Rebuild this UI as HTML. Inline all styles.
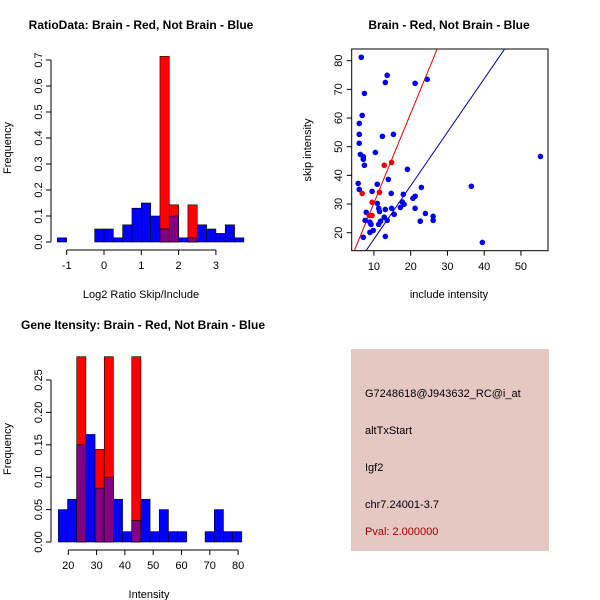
<!DOCTYPE html>
<html><head><meta charset="utf-8"><style>
body{margin:0;background:#fff}
svg{display:block;font-family:"Liberation Sans",sans-serif}
</style></head><body>
<svg id="c" width="600" height="600" xmlns="http://www.w3.org/2000/svg">
<rect width="600" height="600" fill="#fff"/>
<text x="141" y="29" text-anchor="middle" font-weight="bold" font-size="12">RatioData: Brain - Red, Not Brain - Blue</text>
<text x="449" y="29" text-anchor="middle" font-weight="bold" font-size="12">Brain - Red, Not Brain - Blue</text>
<text x="143" y="329" text-anchor="middle" font-weight="bold" font-size="12">Gene Itensity: Brain - Red, Not Brain - Blue</text>
<text x="141" y="298" text-anchor="middle" font-size="11">Log2 Ratio Skip/Include</text>
<text transform="translate(11,148) rotate(-90)" text-anchor="middle" font-size="11">Frequency</text>
<text x="449" y="298" text-anchor="middle" font-size="11">include intensity</text>
<text transform="translate(311,150) rotate(-90)" text-anchor="middle" font-size="11">skip intensity</text>
<text x="149" y="598" text-anchor="middle" font-size="11">Intensity</text>
<text transform="translate(11,449) rotate(-90)" text-anchor="middle" font-size="11">Frequency</text>
<g>
<rect x="351" y="349" width="198" height="202" fill="#e5c8c1"/>
<text x="365" y="397" font-size="11">G7248618@J943632_RC@i_at</text>
<text x="365" y="434" font-size="11">altTxStart</text>
<text x="365" y="471" font-size="11">Igf2</text>
<text x="365" y="508" font-size="11">chr7.24001-3.7</text>
<text x="365" y="535" font-size="11" fill="#a00000">Pval: 2.000000</text>
</g>
</svg>
<script>
// ---- ratio histogram data ----
const ratioStart = -1.25, ratioWidth = 0.25;
const ratioBlue = [0.016,0,0,0,0.05,0.05,0.016,0.066,0.13,0.15,0.10,0.05,0.10,0.016,0.016,0.066,0.05,0.033,0.066,0.016];
const ratioRed  = [0,0,0,0,0,0,0,0,0,0,0,0.714,0.143,0,0.143,0,0,0,0,0];
const ratioXTicks = [-1,0,1,2,3];
const ratioYTicks = [0,0.1,0.2,0.3,0.4,0.5,0.6,0.7];
// ---- intensity histogram data ----
const intStart = 16.5, intWidth = 3.24;
const intBlue = [0.05,0.066,0.15,0.166,0.083,0.10,0.066,0.016,0.033,0.066,0.016,0.05,0.016,0.016,0,0,0.016,0.05,0.016,0.016];
const intRed  = [0,0,0.286,0,0.143,0.286,0,0,0.286,0,0,0,0,0,0,0,0,0,0,0];
const intXTicks = [20,30,40,50,60,70,80];
const intYTicks = [0,0.05,0.10,0.15,0.20,0.25];
// ---- scatter data ----
const blueX = [6.55,7.4,6.8,6.0,6.0,6.0,6.3,7.1,7.1,7.4,5.7,6.0,13.6,13.1,21.2,24.5,12.3,15.3,10.4,13.9,10.9,9.5,14.7,19.1,18.0,22.9,21.2,20.6,10.9,17.7,18.2,17.2,21.2,14.8,13.1,11.3,11.5,7.9,15.5,24.0,26.1,26.1,22.6,12.8,13.6,11.8,11.3,7.6,8.9,9.2,9.8,8.9,7.1,13.1,39.5,36.5,55.3];
const blueY = [81.2,68.6,60.9,58.1,54.3,51.2,47.3,46.5,45.6,43.5,37.2,35.1,74.9,72.4,72.1,73.5,53.6,54.3,48.0,38.6,36.9,34.4,33.7,42.1,33.4,35.8,32.7,32.0,30.2,30.7,29.9,28.8,28.5,28.5,28.1,28.5,27.4,27.1,26.4,26.7,25.7,24.3,24.0,25.4,24.3,24.0,22.9,24.3,23.7,22.9,20.8,20.1,18.4,18.7,16.6,36.2,46.6];
const redX = [6.8,9.5,8.7,9.5,11.5,12.8,14.8];
const redY = [33.7,30.6,26.0,26.0,34.1,43.5,44.5];
const redLine = [-0.8,3.12];   // intercept, slope
const blueLine = [-0.9,1.865];
const scXTicks = [10,20,30,40,50];
const scYTicks = [20,30,40,50,60,70,80];

const svg = document.getElementById('c');
const NS = 'http://www.w3.org/2000/svg';
function mk(tag, attrs){const e=document.createElementNS(NS,tag);for(const k in attrs)e.setAttribute(k,attrs[k]);svg.appendChild(e);return e;}

function hist(start,width,blue,red,xs,ys,xTicks,yTicks,name,yfmt){
  for(let i=0;i<blue.length;i++){
    const x0=xs(start+i*width), x1=xs(start+(i+1)*width);
    const b=blue[i], r=red[i];
    if(r>0){const e=mk('rect',{x:x0,y:ys(r),width:x1-x0,height:ys(0)-ys(r),fill:'#ff0000',stroke:'#000','stroke-width':0.6});
      
      }
    if(b>0){const e=mk('rect',{x:x0,y:ys(b),width:x1-x0,height:ys(0)-ys(b),fill:'#0000ff',stroke:'#000','stroke-width':0.6});
      
      }
    if(b>0&&r>0){const m=Math.min(b,r);const e=mk('rect',{x:x0,y:ys(m),width:x1-x0,height:ys(0)-ys(m),fill:'#800080',stroke:'#000','stroke-width':0.6});
      
      }
  }
  const base=ys(0)+8;
  const xa=mk('line',{x1:xs(xTicks[0]),x2:xs(xTicks[xTicks.length-1]),y1:base,y2:base,stroke:'#000'});
  
  
  xTicks.forEach(t=>{mk('line',{x1:xs(t),x2:xs(t),y1:base,y2:base+5,stroke:'#000'});
    const tx=mk('text',{x:xs(t),y:base+19,'text-anchor':'middle','font-size':11});tx.textContent=t;
    
    });
  const ax=51;
  const ya=mk('line',{x1:ax,x2:ax,y1:ys(yTicks[0]),y2:ys(yTicks[yTicks.length-1]),stroke:'#000'});
  
  
  yTicks.forEach(t=>{mk('line',{x1:ax-5,x2:ax,y1:ys(t),y2:ys(t),stroke:'#000'});
    const tx=mk('text',{transform:`translate(${ax-9},${ys(t)}) rotate(-90)`,'text-anchor':'middle','font-size':11});tx.textContent=yfmt(t);
    
    });
}
hist(ratioStart,ratioWidth,ratioBlue,ratioRed,v=>104+v*37.3,v=>242-v*260,ratioXTicks,ratioYTicks,'ratio',t=>t.toFixed(1));
hist(intStart,intWidth,intBlue,intRed,v=>68.3+(v-20)*2.83,v=>542-v*648,intXTicks,intYTicks,'intensity',t=>t.toFixed(2));

// scatter
const sx=v=>337.2+v*3.675, sy=v=>232.7-(v-20)*2.867;
const bx=mk('rect',{x:351.7,y:49,width:196.3,height:201.7,fill:'none',stroke:'#000'});


const clip=mk('clipPath',{id:'sc'});clip.appendChild(document.createElementNS(NS,'rect'));
clip.firstChild.setAttribute('x',351.7);clip.firstChild.setAttribute('y',49);clip.firstChild.setAttribute('width',196.3);clip.firstChild.setAttribute('height',201.7);
[[redLine,'#dd0000','red-fit-line'],[blueLine,'#000099','blue-fit-line']].forEach(([l,c,n])=>{
  const e=mk('line',{x1:sx(0),y1:sy(l[0]),x2:sx(60),y2:sy(l[0]+l[1]*60),stroke:c,'clip-path':'url(#sc)'});
  
  
});
blueX.forEach((x,i)=>{const e=mk('circle',{cx:sx(x),cy:sy(blueY[i]),r:2.8,fill:'#0000ee'});
  
  });
redX.forEach((x,i)=>{const e=mk('circle',{cx:sx(x),cy:sy(redY[i]),r:2.8,fill:'#ee0000'});
  
  });
scXTicks.forEach(t=>{mk('line',{x1:sx(t),x2:sx(t),y1:250.7,y2:255.7,stroke:'#000'});
  const tx=mk('text',{x:sx(t),y:270,'text-anchor':'middle','font-size':11});tx.textContent=t;
  
  });
scYTicks.forEach(t=>{mk('line',{x1:346.7,x2:351.7,y1:sy(t),y2:sy(t),stroke:'#000'});
  const tx=mk('text',{transform:`translate(342,${sy(t)}) rotate(-90)`,'text-anchor':'middle','font-size':11});tx.textContent=t;
  
  });
</script>
</body></html>
